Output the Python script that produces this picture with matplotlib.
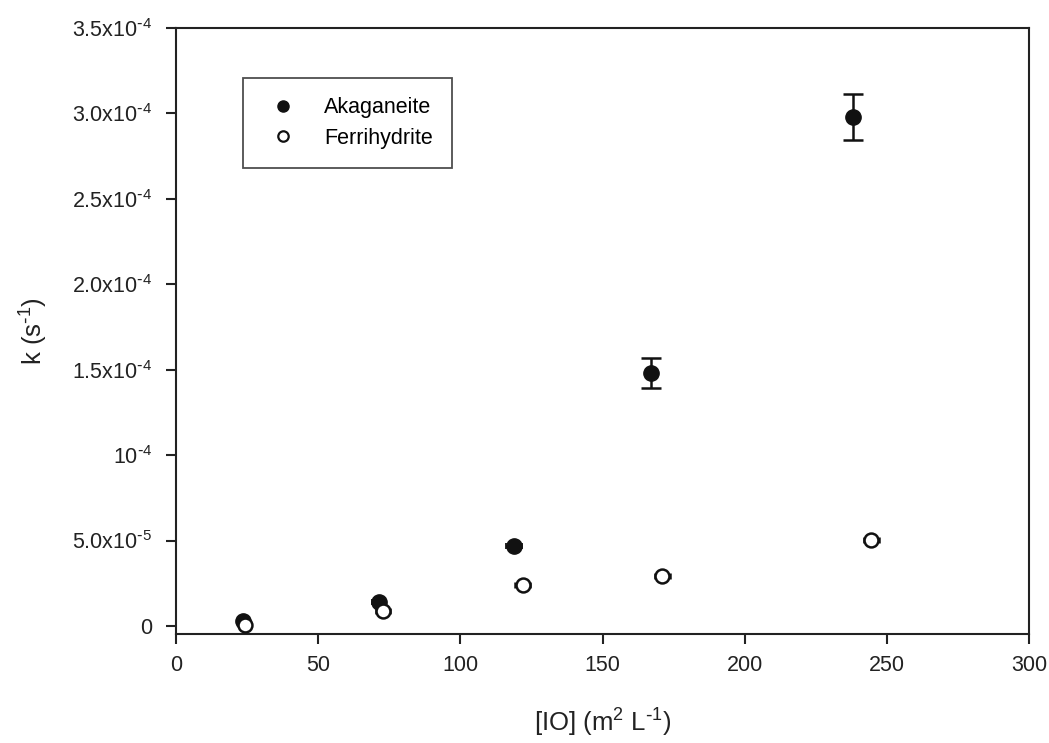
import matplotlib
matplotlib.use("Agg")
import matplotlib.pyplot as plt
from matplotlib.lines import Line2D
from matplotlib.ticker import FixedLocator

plt.rcParams["font.family"] = ["Liberation Sans", "DejaVu Sans"]
plt.rcParams["mathtext.default"] = "regular"

# Akaganeite
aka_x = [23.6, 71.4, 118.9, 167.0, 238.2]
aka_y = [2.9e-6, 14.0e-6, 46.9e-6, 148.0e-6, 297.8e-6]
aka_xerr = [2.2, 2.6, 2.8, 1.0, 1.0]
aka_yerr = [0.0, 0.0, 0.0, 8.8e-6, 13.5e-6]

# Ferrihydrite
fer_x = [24.3, 72.8, 122.0, 171.0, 244.5]
fer_y = [0.5e-6, 8.8e-6, 24.0e-6, 29.3e-6, 50.4e-6]
fer_xerr = [1.8, 2.6, 2.6, 2.6, 2.6]

yticks = [0, 5e-5, 1e-4, 1.5e-4, 2e-4, 2.5e-4, 3e-4, 3.5e-4]
ytick_labels = ["0", r"5.0x10$^{\text{-}5}$", r"10$^{\text{-}4}$", r"1.5x10$^{\text{-}4}$",
                r"2.0x10$^{\text{-}4}$", r"2.5x10$^{\text{-}4}$", r"3.0x10$^{\text{-}4}$",
                r"3.5x10$^{\text{-}4}$"]
xticks = [0, 50, 100, 150, 200, 250, 300]

fig = plt.figure(figsize=(10.49, 7.43), dpi=100)
ax = fig.add_axes([176 / 1049, 1 - 634 / 743, (1029 - 176) / 1049, (634 - 28) / 743])

c = "#111111"
# horizontal error bars + markers
ax.errorbar(aka_x, aka_y, xerr=aka_xerr, fmt="o", color=c, markersize=11,
            ecolor=c, elinewidth=1.3, capsize=2, capthick=1.3, zorder=3)
# vertical error bars where they stick out of the marker
big = [i for i, e in enumerate(aka_yerr) if e > 0]
ax.errorbar([aka_x[i] for i in big], [aka_y[i] for i in big],
            yerr=[aka_yerr[i] for i in big], fmt="none", ecolor=c,
            elinewidth=1.8, capsize=7, capthick=1.8, zorder=2)
ax.errorbar(fer_x, fer_y, xerr=fer_xerr, fmt="o", color=c,
            markerfacecolor="white", markeredgewidth=1.8, markersize=10,
            ecolor=c, elinewidth=1.3, capsize=2, capthick=1.3, zorder=4)

ax.set_xlim(0, 300)
ax.set_ylim(-4.7e-6, 3.5e-4)
ax.set_xticks(xticks)
ax.yaxis.set_major_locator(FixedLocator(yticks))
ax.set_yticklabels(ytick_labels)
ax.tick_params(direction="out", length=7, width=1.5, labelsize=15.5, colors="#222222")
ax.tick_params(axis="y", pad=10)
ax.tick_params(axis="x", pad=8)
for s in ax.spines.values():
    s.set_linewidth(1.5)
    s.set_color("#222222")

ax.set_xlabel(r"[IO] (m$^{2}$ L$^{\text{-}1}$)", fontsize=18.5, labelpad=22, color="#222222")
ax.set_ylabel(r"k (s$^{\text{-}1}$)", fontsize=18.5, labelpad=16, color="#222222")

handles = [
    Line2D([], [], marker="o", linestyle="none", color=c, markersize=8),
    Line2D([], [], marker="o", linestyle="none", color=c, markerfacecolor="white",
           markeredgewidth=1.6, markersize=7.5),
]
leg = ax.legend(handles, ["Akaganeite", "Ferrihydrite"], loc="upper left",
                bbox_to_anchor=(0.078, 0.918), fontsize=15.5,
                frameon=True, fancybox=False, edgecolor="#222222",
                borderpad=0.9, handletextpad=0.9, labelspacing=0.45, borderaxespad=0)
leg.get_frame().set_linewidth(1.3)

fig.savefig("out.png", dpi=100)
